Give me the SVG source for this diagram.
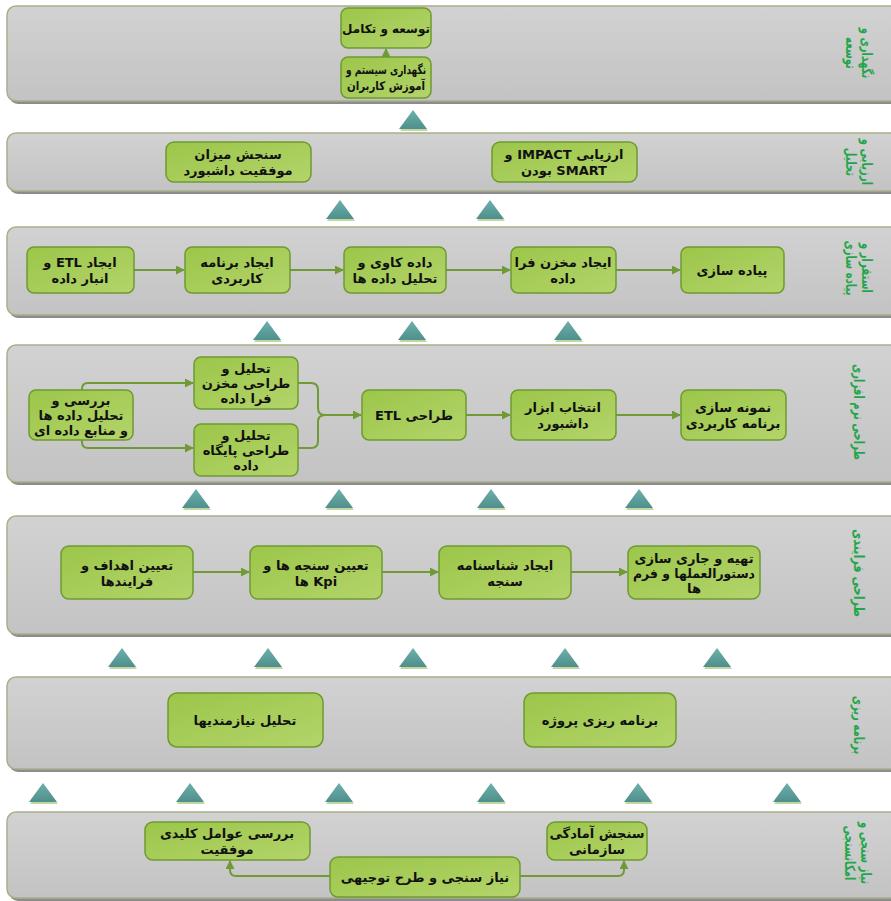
<svg xmlns="http://www.w3.org/2000/svg" width="891" height="901" viewBox="0 0 891 901">
<defs>
<linearGradient id="gPanel" x1="0" y1="0" x2="0" y2="1"><stop offset="0" stop-color="#d2d2d2"/><stop offset="1" stop-color="#c3c3c3"/></linearGradient>
<linearGradient id="gNode" x1="0" y1="0" x2="1" y2="1"><stop offset="0" stop-color="#9cc64a"/><stop offset="1" stop-color="#b3d46a"/></linearGradient>
<linearGradient id="gTri" x1="0" y1="0" x2="0" y2="1"><stop offset="0" stop-color="#6cb0ac"/><stop offset="1" stop-color="#4f8f8c"/></linearGradient>
<marker id="ah" viewBox="0 0 10 10" refX="9" refY="5" markerWidth="9" markerHeight="9" markerUnits="userSpaceOnUse" orient="auto"><path d="M0 0 L10 5 L0 10 Z" fill="#6f9a35"/></marker>
<symbol id="tri" overflow="visible"><path d="M1 2 L15 21 L-13 21 Z" fill="#a9c57a" opacity="0.7"/><path d="M0 0 L14 19 L-14 19 Z" fill="url(#gTri)"/></symbol>
</defs>
<style>
.panel{fill:url(#gPanel);stroke:#a9b08a;stroke-width:1.5}
.pshadow{fill:#8c8c8c}
.node{fill:url(#gNode);stroke:#6e9a30;stroke-width:1.5}
.t{font-family:"DejaVu Sans",sans-serif;font-size:13px;font-weight:bold;fill:#111;text-anchor:middle;direction:rtl}
.s{font-size:12px}
.lbl{font-family:"DejaVu Sans",sans-serif;font-size:14px;font-weight:bold;fill:#1fa64a;text-anchor:middle;direction:rtl}
.c{fill:none;stroke:#6f9a35;stroke-width:2}
</style>

<g id="panels">
<rect class="pshadow" x="9" y="9" width="900" height="95" rx="9"/>
<rect class="panel" x="7" y="6" width="900" height="95" rx="9"/>
<rect class="pshadow" x="9" y="136" width="900" height="58" rx="9"/>
<rect class="panel" x="7" y="133" width="900" height="58" rx="9"/>
<rect class="pshadow" x="9" y="230" width="900" height="88" rx="9"/>
<rect class="panel" x="7" y="227" width="900" height="88" rx="9"/>
<rect class="pshadow" x="9" y="348" width="900" height="137" rx="9"/>
<rect class="panel" x="7" y="345" width="900" height="137" rx="9"/>
<rect class="pshadow" x="9" y="519" width="900" height="118" rx="9"/>
<rect class="panel" x="7" y="516" width="900" height="118" rx="9"/>
<rect class="pshadow" x="9" y="680" width="900" height="92" rx="9"/>
<rect class="panel" x="7" y="677" width="900" height="92" rx="9"/>
<rect class="pshadow" x="9" y="815" width="900" height="86" rx="9"/>
<rect class="panel" x="7" y="812" width="900" height="86" rx="9"/>
</g>

<g id="labels">
<text class="lbl" transform="translate(859,53) rotate(90) scale(0.72,1)"><tspan x="0" y="-3">نگهداری و</tspan><tspan x="0" y="13">توسعه</tspan></text>
<text class="lbl" transform="translate(859,162) rotate(90) scale(0.72,1)"><tspan x="0" y="-3">ارزیابی و</tspan><tspan x="0" y="13">تحلیل</tspan></text>
<text class="lbl" transform="translate(859,268) rotate(90) scale(0.72,1)"><tspan x="0" y="-3">استقرار و</tspan><tspan x="0" y="13">پیاده سازی</tspan></text>
<text class="lbl" transform="translate(859,412) rotate(90) scale(0.72,1)" y="5">طراحی نرم افزاری</text>
<text class="lbl" transform="translate(859,573) rotate(90) scale(0.8,1)" y="5">طراحی فرایندی</text>
<text class="lbl" transform="translate(859,725) rotate(90) scale(0.72,1)" y="5">برنامه ریزی</text>
<text class="lbl" transform="translate(858,853) rotate(90) scale(0.72,1)"><tspan x="0" y="-3">نیاز سنجی و</tspan><tspan x="0" y="13">امکانسنجی</tspan></text>
</g>

<g id="triangles">
<use href="#tri" x="413" y="110"/>
<use href="#tri" x="340" y="200"/><use href="#tri" x="490" y="200"/>
<use href="#tri" x="267" y="321"/><use href="#tri" x="412" y="321"/><use href="#tri" x="568" y="321"/>
<use href="#tri" x="196" y="489"/><use href="#tri" x="339" y="489"/><use href="#tri" x="491" y="489"/><use href="#tri" x="639" y="489"/>
<use href="#tri" x="122" y="648"/><use href="#tri" x="268" y="648"/><use href="#tri" x="413" y="648"/><use href="#tri" x="565" y="648"/><use href="#tri" x="717" y="648"/>
<use href="#tri" x="43" y="783"/><use href="#tri" x="190" y="783"/><use href="#tri" x="339" y="783"/><use href="#tri" x="491" y="783"/><use href="#tri" x="638" y="783"/><use href="#tri" x="787" y="783"/>
</g>

<g id="connectors">
<path class="c" d="M386 57 V49" marker-end="url(#ah)"/>
<path class="c" d="M134 270 H184" marker-end="url(#ah)"/>
<path class="c" d="M290 270 H343" marker-end="url(#ah)"/>
<path class="c" d="M446 270 H510" marker-end="url(#ah)"/>
<path class="c" d="M616 270 H680" marker-end="url(#ah)"/>
<path class="c" d="M82 390 V389 Q82 383 88 383 H193" marker-end="url(#ah)"/>
<path class="c" d="M82 440 V442 Q82 448 88 448 H193" marker-end="url(#ah)"/>
<path class="c" d="M298 383 H311 Q318 383 318 390 V408 Q318 415 325 415 H361" marker-end="url(#ah)"/>
<path class="c" d="M298 448 H311 Q318 448 318 441 V422 Q318 415 325 415"/>
<path class="c" d="M466 415 H510" marker-end="url(#ah)"/>
<path class="c" d="M616 415 H680" marker-end="url(#ah)"/>
<path class="c" d="M193 572 H249" marker-end="url(#ah)"/>
<path class="c" d="M382 572 H438" marker-end="url(#ah)"/>
<path class="c" d="M571 572 H627" marker-end="url(#ah)"/>
<path class="c" d="M330 876 H236 Q230 876 230 870 V861" marker-end="url(#ah)"/>
<path class="c" d="M520 876 H618 Q624 876 624 870 V861" marker-end="url(#ah)"/>
</g>

<g id="n1"><rect class="node" x="341" y="8" width="90" height="40" rx="7"/><text class="t s" x="386" y="32.5">توسعه و تکامل</text></g>
<g id="n2"><rect class="node" x="341" y="57" width="90" height="41" rx="7"/><text class="t s" x="386" y="74" textLength="80" lengthAdjust="spacingAndGlyphs">نگهداری سیستم و</text><text class="t s" x="386" y="90" textLength="78" lengthAdjust="spacingAndGlyphs">آموزش کاربران</text></g>

<g id="n3"><rect class="node" x="166" y="142" width="145" height="40" rx="8"/><text class="t" x="238" y="159">سنجش میزان</text><text class="t" x="238" y="175">موفقیت داشبورد</text></g>
<g id="n4"><rect class="node" x="492" y="142" width="145" height="40" rx="8"/><text class="t" x="564" y="159">ارزیابی IMPACT و</text><text class="t" x="564" y="175">SMART بودن</text></g>

<g id="n5"><rect class="node" x="27" y="247" width="107" height="46" rx="7"/><text class="t" x="80" y="267">ایجاد ETL و</text><text class="t" x="80" y="283">انبار داده</text></g>
<g id="n6"><rect class="node" x="185" y="247" width="105" height="46" rx="7"/><text class="t" x="237" y="267">ایجاد برنامه</text><text class="t" x="237" y="283">کاربردی</text></g>
<g id="n7"><rect class="node" x="344" y="247" width="102" height="46" rx="7"/><text class="t" x="395" y="267">داده کاوی و</text><text class="t" x="395" y="283">تحلیل داده ها</text></g>
<g id="n8"><rect class="node" x="511" y="247" width="105" height="46" rx="7"/><text class="t" x="563" y="267">ایجاد مخزن فرا</text><text class="t" x="563" y="283">داده</text></g>
<g id="n9"><rect class="node" x="681" y="247" width="103" height="46" rx="7"/><text class="t" x="732" y="275">پیاده سازی</text></g>

<g id="n10"><rect class="node" x="29" y="390" width="104" height="50" rx="7"/><text class="t" x="81" y="405">بررسی و</text><text class="t" x="81" y="420">تحلیل داده ها</text><text class="t" x="81" y="435" textLength="94" lengthAdjust="spacingAndGlyphs">و منابع داده ای</text></g>
<g id="n11"><rect class="node" x="194" y="357" width="104" height="52" rx="7"/><text class="t" x="246" y="373">تحلیل و</text><text class="t" x="246" y="388">طراحی مخزن</text><text class="t" x="246" y="403">فرا داده</text></g>
<g id="n12"><rect class="node" x="194" y="424" width="104" height="52" rx="7"/><text class="t" x="246" y="440">تحلیل و</text><text class="t" x="246" y="455">طراحی پایگاه</text><text class="t" x="246" y="470">داده</text></g>
<g id="n13"><rect class="node" x="362" y="390" width="104" height="50" rx="7"/><text class="t" x="414" y="420">طراحی ETL</text></g>
<g id="n14"><rect class="node" x="511" y="390" width="105" height="50" rx="7"/><text class="t" x="563" y="412">انتخاب ابزار</text><text class="t" x="563" y="428">داشبورد</text></g>
<g id="n15"><rect class="node" x="681" y="390" width="105" height="50" rx="7"/><text class="t" x="733" y="412">نمونه سازی</text><text class="t" x="733" y="428">برنامه کاربردی</text></g>

<g id="n16"><rect class="node" x="61" y="546" width="132" height="53" rx="8"/><text class="t" x="127" y="569.5">تعیین اهداف و</text><text class="t" x="127" y="585.5">فرایندها</text></g>
<g id="n17"><rect class="node" x="250" y="546" width="132" height="53" rx="8"/><text class="t" x="316" y="569.5">تعیین سنجه ها و</text><text class="t" x="316" y="585.5">Kpi ها</text></g>
<g id="n18"><rect class="node" x="439" y="546" width="132" height="53" rx="8"/><text class="t" x="505" y="569.5">ایجاد شناسنامه</text><text class="t" x="505" y="585.5">سنجه</text></g>
<g id="n19"><rect class="node" x="628" y="546" width="132" height="53" rx="8"/><text class="t" x="694" y="562.5">تهیه و جاری سازی</text><text class="t" x="694" y="577.5" textLength="122" lengthAdjust="spacingAndGlyphs">دستورالعملها و فرم</text><text class="t" x="694" y="592.5">ها</text></g>

<g id="n20"><rect class="node" x="168" y="693" width="155" height="54" rx="9"/><text class="t" x="245" y="725">تحلیل نیازمندیها</text></g>
<g id="n21"><rect class="node" x="524" y="693" width="152" height="54" rx="9"/><text class="t" x="600" y="725">برنامه ریزی پروژه</text></g>

<g id="n22"><rect class="node" x="145" y="822" width="165" height="38" rx="8"/><text class="t" x="227" y="838">بررسی عوامل کلیدی</text><text class="t" x="227" y="854">موفقیت</text></g>
<g id="n23"><rect class="node" x="547" y="822" width="100" height="38" rx="8"/><text class="t" x="597" y="838">سنجش آمادگی</text><text class="t" x="597" y="854">سازمانی</text></g>
<g id="n24"><rect class="node" x="330" y="857" width="190" height="40" rx="8"/><text class="t" x="425" y="882">نیاز سنجی و طرح توجیهی</text></g>
</svg>
